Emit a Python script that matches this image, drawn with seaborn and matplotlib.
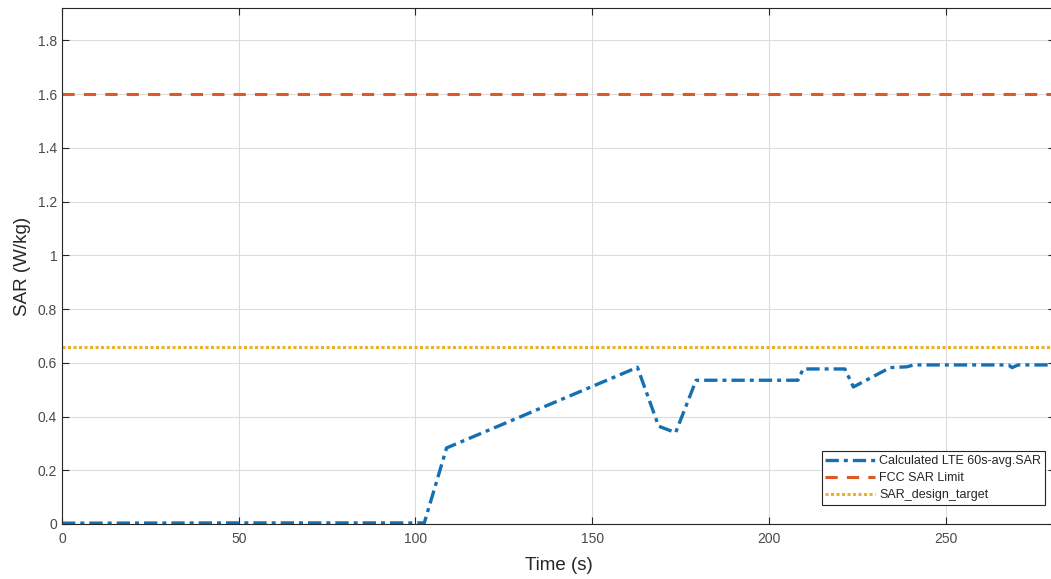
import matplotlib
matplotlib.use("Agg")
import matplotlib.pyplot as plt
import pandas as pd
import seaborn as sns

# values
time_s = [0, 50, 102.5, 108.8, 162.8, 168.8, 173.6, 179.4, 208.2, 209.7, 221.5,
          223.9, 234.3, 239, 241, 267.8, 268.8, 270.5, 281]
sar_avg = [0.003, 0.004, 0.004, 0.283, 0.583, 0.364, 0.34, 0.535, 0.535, 0.577, 0.577,
           0.51, 0.582, 0.585, 0.592, 0.592, 0.582, 0.592, 0.592]
fcc_limit = 1.6
design_target = 0.658

sar = pd.DataFrame({"time": time_s, "sar": sar_avg})

blue, orange, yellow = "#1470b3", "#dd5a26", "#e8b32a"

sns.set_style("whitegrid", {"grid.color": "#dcdcdc", "axes.edgecolor": "#262626"})
plt.rcParams["font.family"] = ["Liberation Sans", "DejaVu Sans"]

fig = plt.figure(figsize=(10.51, 5.79), dpi=100)
ax = fig.add_axes([0.059, 0.095, 0.945, 0.891])

sns.lineplot(data=sar, x="time", y="sar", color=blue, linewidth=2.4,
             linestyle=(0, (4, 1.5, 1.2, 1.5)), label="Calculated LTE 60s-avg.SAR", ax=ax)
ax.axhline(fcc_limit, color=orange, linewidth=2.2, linestyle=(0, (4, 3)), label="FCC SAR Limit")
ax.axhline(design_target, color=yellow, linewidth=2.2, linestyle=(0, (1, 0.8)), label="SAR_design_target")

ax.set_xlim(0, 281)
ax.set_ylim(0, 1.92)
ax.set_xticks([0, 50, 100, 150, 200, 250])
ax.set_yticks([0, 0.2, 0.4, 0.6, 0.8, 1, 1.2, 1.4, 1.6, 1.8])
ax.set_yticklabels(["0", "0.2", "0.4", "0.6", "0.8", "1", "1.2", "1.4", "1.6", "1.8"])
ax.tick_params(direction="in", length=5, width=0.8, labelsize=10, colors="#262626",
               labelcolor="#4a4a4a", bottom=True, left=True, top=True, right=True,
               labeltop=False, labelright=False)
ax.tick_params(axis="x", pad=6)
ax.set_xlabel("Time (s)", fontsize=13.5, color="#262626", labelpad=8)
ax.set_ylabel("SAR (W/kg)", fontsize=13.5, color="#262626", labelpad=5)
for s in ax.spines.values():
    s.set_linewidth(0.8)

leg = ax.legend(loc="lower right", fontsize=9, frameon=True, fancybox=False,
                edgecolor="#262626", framealpha=1, handlelength=4.0, handletextpad=0.3,
                borderpad=0.3, labelspacing=0.4, bbox_to_anchor=(0.996, 0.025))
leg.get_frame().set_linewidth(0.8)

fig.savefig("out.png", dpi=100)
